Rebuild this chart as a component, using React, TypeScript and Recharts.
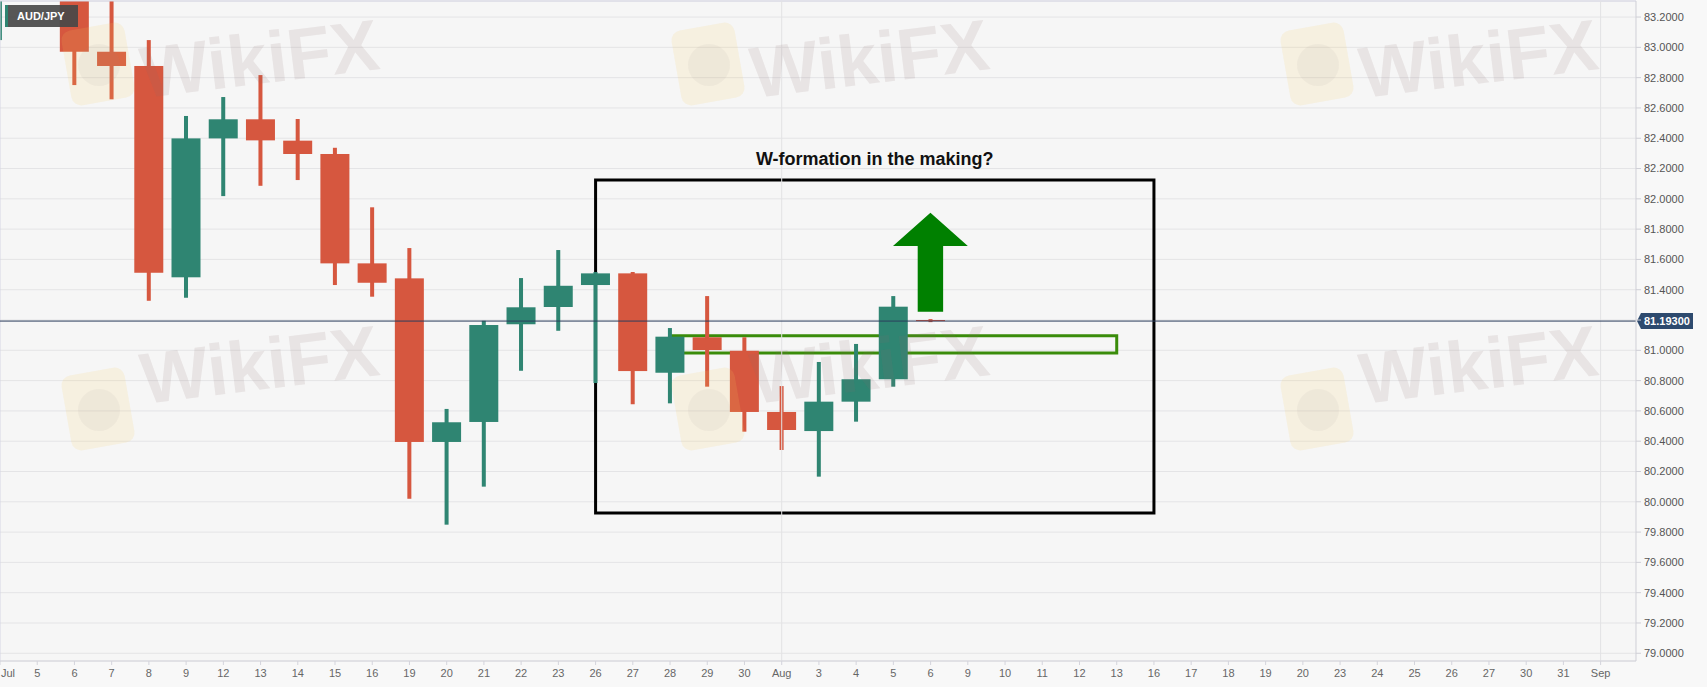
import React from 'react';
import {
  ComposedChart,
  Bar,
  XAxis,
  YAxis,
  CartesianGrid,
  ReferenceLine,
  ReferenceArea,
} from 'recharts';

// trading days shown on the axis (Jul 2 .. Sep 1)
const dateLabels = [
  'Jul', '5', '6', '7', '8', '9', '12', '13', '14', '15', '16', '19', '20', '21', '22', '23',
  '26', '27', '28', '29', '30', 'Aug', '3', '4', '5', '6', '9', '10', '11', '12', '13', '16',
  '17', '18', '19', '20', '23', '24', '25', '26', '27', '30', '31', 'Sep',
];

// daily OHLC, AUD/JPY
const opens = [
  83.4, 83.66, 83.55, 82.971, 82.877, 81.482, 82.399, 82.525, 82.384, 82.296, 81.574, 81.475, 80.395,
  80.527, 81.172, 81.286, 81.431, 81.508, 80.852, 81.086, 80.997, 80.593, 80.467, 80.661, 80.809, 81.2,
];
const highs = [
  83.75, 83.82, 83.68, 83.36, 83.048, 82.547, 82.672, 82.817, 82.527, 82.337, 81.944, 81.675, 80.613,
  81.195, 81.477, 81.662, 81.517, 81.517, 81.147, 81.358, 81.086, 80.764, 80.923, 81.042, 81.358, 81.206,
];
const lows = [
  83.048, 83.42, 82.751, 82.657, 81.327, 81.347, 82.018, 82.086, 82.124, 81.431, 81.354, 80.02, 79.849,
  80.1, 80.865, 81.129, 80.784, 80.644, 80.65, 80.76, 80.463, 80.342, 80.166, 80.529, 80.76, 81.186,
];
const closes = [
  83.65, 83.55, 82.971, 82.877, 81.512, 82.399, 82.525, 82.386, 82.296, 81.574, 81.446, 80.395, 80.525,
  81.167, 81.284, 81.426, 81.508, 80.863, 81.09, 81.002, 80.593, 80.474, 80.661, 80.809, 81.288, 81.193,
];

const priceTicks = [
  79.0, 79.2, 79.4, 79.6, 79.8, 80.0, 80.2, 80.4, 80.6, 80.8, 81.0, 81.2, 81.4, 81.6, 81.8, 82.0,
  82.2, 82.4, 82.6, 82.8, 83.0, 83.2,
];
const lastPrice = 81.193;

// annotations, in data units (day index / price)
const boxX = [16, 31];
const boxY = [79.926, 82.124];
const zoneX = [18, 30];
const zoneY = [80.982, 81.096];
const arrowX = [23.99, 26];
const arrowY = [81.255, 81.908];

const UP = '#2f8572';
const DOWN = '#d6573f';

const data = opens.map((open, i) => ({
  i,
  open,
  close: closes[i],
  high: highs[i],
  low: lows[i],
  range: [lows[i], highs[i]],
}));

const Candle = (props: any) => {
  const { x, y, width, height, payload } = props;
  const top = Math.min(y, y + height);
  const h = Math.abs(height);
  const span = payload.high - payload.low;
  const k = span > 0 ? h / span : 0;
  const bodyTop = top + (payload.high - Math.max(payload.open, payload.close)) * k;
  const bodyBot = top + (payload.high - Math.min(payload.open, payload.close)) * k;
  const color = payload.close >= payload.open ? UP : DOWN;
  const cx = x + width / 2;
  return (
    <g>
      <rect x={cx - 2} y={top} width={4} height={h} fill={color} />
      <rect x={x} y={bodyTop} width={width} height={Math.max(1, bodyBot - bodyTop)} fill={color} />
    </g>
  );
};

const Arrow = (props: any) => {
  const { x, y, width, height } = props;
  const cx = x + width / 2;
  const headH = height * 0.337;
  const half = (width * 0.34) / 2;
  const pts = [
    [cx, y],
    [x + width, y + headH],
    [cx + half, y + headH],
    [cx + half, y + height],
    [cx - half, y + height],
    [cx - half, y + headH],
    [x, y + headH],
  ]
    .map((p) => p.join(','))
    .join(' ');
  return <polygon points={pts} fill="#008000" />;
};

const PriceTag = (props: any) => {
  const { viewBox } = props;
  if (!viewBox) return null;
  const right = viewBox.x + viewBox.width;
  const cy = viewBox.y;
  return (
    <g>
      <path
        d={`M${right + 1},${cy} L${right + 5},${cy - 8} H${right + 57} V${cy + 8} H${right + 5} Z`}
        fill="#2d4a6e"
      />
      <text x={right + 8} y={cy} dy="0.36em" fill="#fff" fontSize={11} fontWeight="bold">
        {lastPrice.toFixed(5)}
      </text>
    </g>
  );
};

const XTick = (props: any) => {
  const { x, y, payload } = props;
  const first = payload.value === 0;
  return (
    <text
      x={first ? x + 1 : x}
      y={y}
      dy="0.71em"
      textAnchor={first ? 'start' : 'middle'}
      fontSize={11}
      fill="#666"
    >
      {dateLabels[payload.value]}
    </text>
  );
};

const YTick = (props: any) => {
  const { x, y, payload } = props;
  if (Math.abs(payload.value - lastPrice) < 0.05) return null;
  return (
    <text x={x} y={y} dy="0.36em" textAnchor="start" fontSize={11} fill="#555">
      {Number(payload.value).toFixed(4)}
    </text>
  );
};

// watermark placement: [left, top of logo, top of text]
const watermarkSpots = [
  [0, 10, 46],
  [610, 10, 46],
  [1219, 10, 46],
  [0, 355, 352],
  [610, 355, 352],
  [1219, 355, 352],
];

const Watermarks = () => (
  <div style={{ position: 'absolute', left: 0, top: 0, width: 1636, height: 661, overflow: 'hidden', pointerEvents: 'none' }}>
    {watermarkSpots.map(([dx, logoTop, textTop], n) => (
      <React.Fragment key={n}>
        <div
          style={{
            position: 'absolute',
            left: dx + 66,
            top: logoTop + 16,
            width: 64,
            height: 76,
            borderRadius: 10,
            background: 'rgba(246, 205, 90, 0.14)',
            transform: 'rotate(-10deg)',
          }}
        />
        <div
          style={{
            position: 'absolute',
            left: dx + 78,
            top: logoTop + 34,
            width: 42,
            height: 42,
            borderRadius: 21,
            background: 'rgba(150, 140, 140, 0.08)',
          }}
        />
        <div
          style={{
            position: 'absolute',
            left: dx + 144,
            top: textTop,
            height: 54,
            fontSize: 72,
            lineHeight: '54px',
            fontWeight: 'bold',
            fontFamily: '"Liberation Sans", Arial, sans-serif',
            color: 'rgba(140, 110, 110, 0.13)',
            transform: 'rotate(-7deg)',
            transformOrigin: 'left bottom',
            whiteSpace: 'nowrap',
          }}
        >
          WikiFX
        </div>
      </React.Fragment>
    ))}
  </div>
);

export default function App() {
  const yMin = 78.949;
  const yMax = 83.306;
  return (
    <div
      style={{
        position: 'relative',
        width: 1707,
        height: 687,
        background: '#f8f8f8',
        fontFamily: '"Liberation Sans", Arial, sans-serif',
      }}
    >
      <style>{'body{margin:0}'}</style>
      <ComposedChart width={1707} height={687} data={data} margin={{ top: 1, right: 0, left: 0, bottom: 0 }}>
        <CartesianGrid vertical={false} stroke="#e4e4e6" fill="#f6f6f6" />
        <XAxis
          dataKey="i"
          type="number"
          domain={[0, 43.95]}
          ticks={dateLabels.map((_, i) => i)}
          allowDataOverflow
          interval={0}
          height={26}
          tickSize={4}
          tickMargin={4}
          stroke="#d4d4dc"
          tick={<XTick />}
        />
        <YAxis
          orientation="right"
          domain={[yMin, yMax]}
          ticks={priceTicks}
          allowDataOverflow
          width={71}
          tickSize={5}
          tickMargin={3}
          stroke="#cfcfd6"
          tick={<YTick />}
        />
        <ReferenceLine x={0} stroke="#d6d6e4" />
        <ReferenceLine y={yMax} stroke="#d6d6e4" />
        <ReferenceLine x={21} stroke="#e2e2e4" />
        <ReferenceLine x={43} stroke="#e2e2e4" />
        <Bar dataKey="range" barSize={29} shape={<Candle />} isAnimationActive={false} />
        <ReferenceLine y={lastPrice} stroke="#2b3d5c" strokeWidth={1} label={PriceTag} />
        <ReferenceArea
          x1={boxX[0]}
          x2={boxX[1]}
          y1={boxY[0]}
          y2={boxY[1]}
          fill="none"
          fillOpacity={0}
          stroke="#000"
          strokeWidth={3}
          label={{
            value: 'W-formation in the making?',
            position: 'top',
            offset: 15,
            fill: '#111',
            fontSize: 18,
            fontWeight: 'bold',
          }}
        />
        <ReferenceArea
          x1={zoneX[0]}
          x2={zoneX[1]}
          y1={zoneY[0]}
          y2={zoneY[1]}
          fill="none"
          fillOpacity={0}
          stroke="#3a8c0a"
          strokeWidth={3}
        />
        <ReferenceArea x1={arrowX[0]} x2={arrowX[1]} y1={arrowY[0]} y2={arrowY[1]} shape={<Arrow />} />
      </ComposedChart>
      <Watermarks />
      <div
        style={{
          position: 'absolute',
          left: 5,
          top: 5,
          width: 73,
          height: 22,
          background: 'rgba(72, 72, 72, 0.92)',
          borderLeft: '3px solid #2f8572',
          color: '#fff',
          fontSize: 11,
          fontWeight: 'bold',
          lineHeight: '22px',
          paddingLeft: 9,
          boxSizing: 'border-box',
        }}
      >
        AUD/JPY
      </div>
    </div>
  );
}
